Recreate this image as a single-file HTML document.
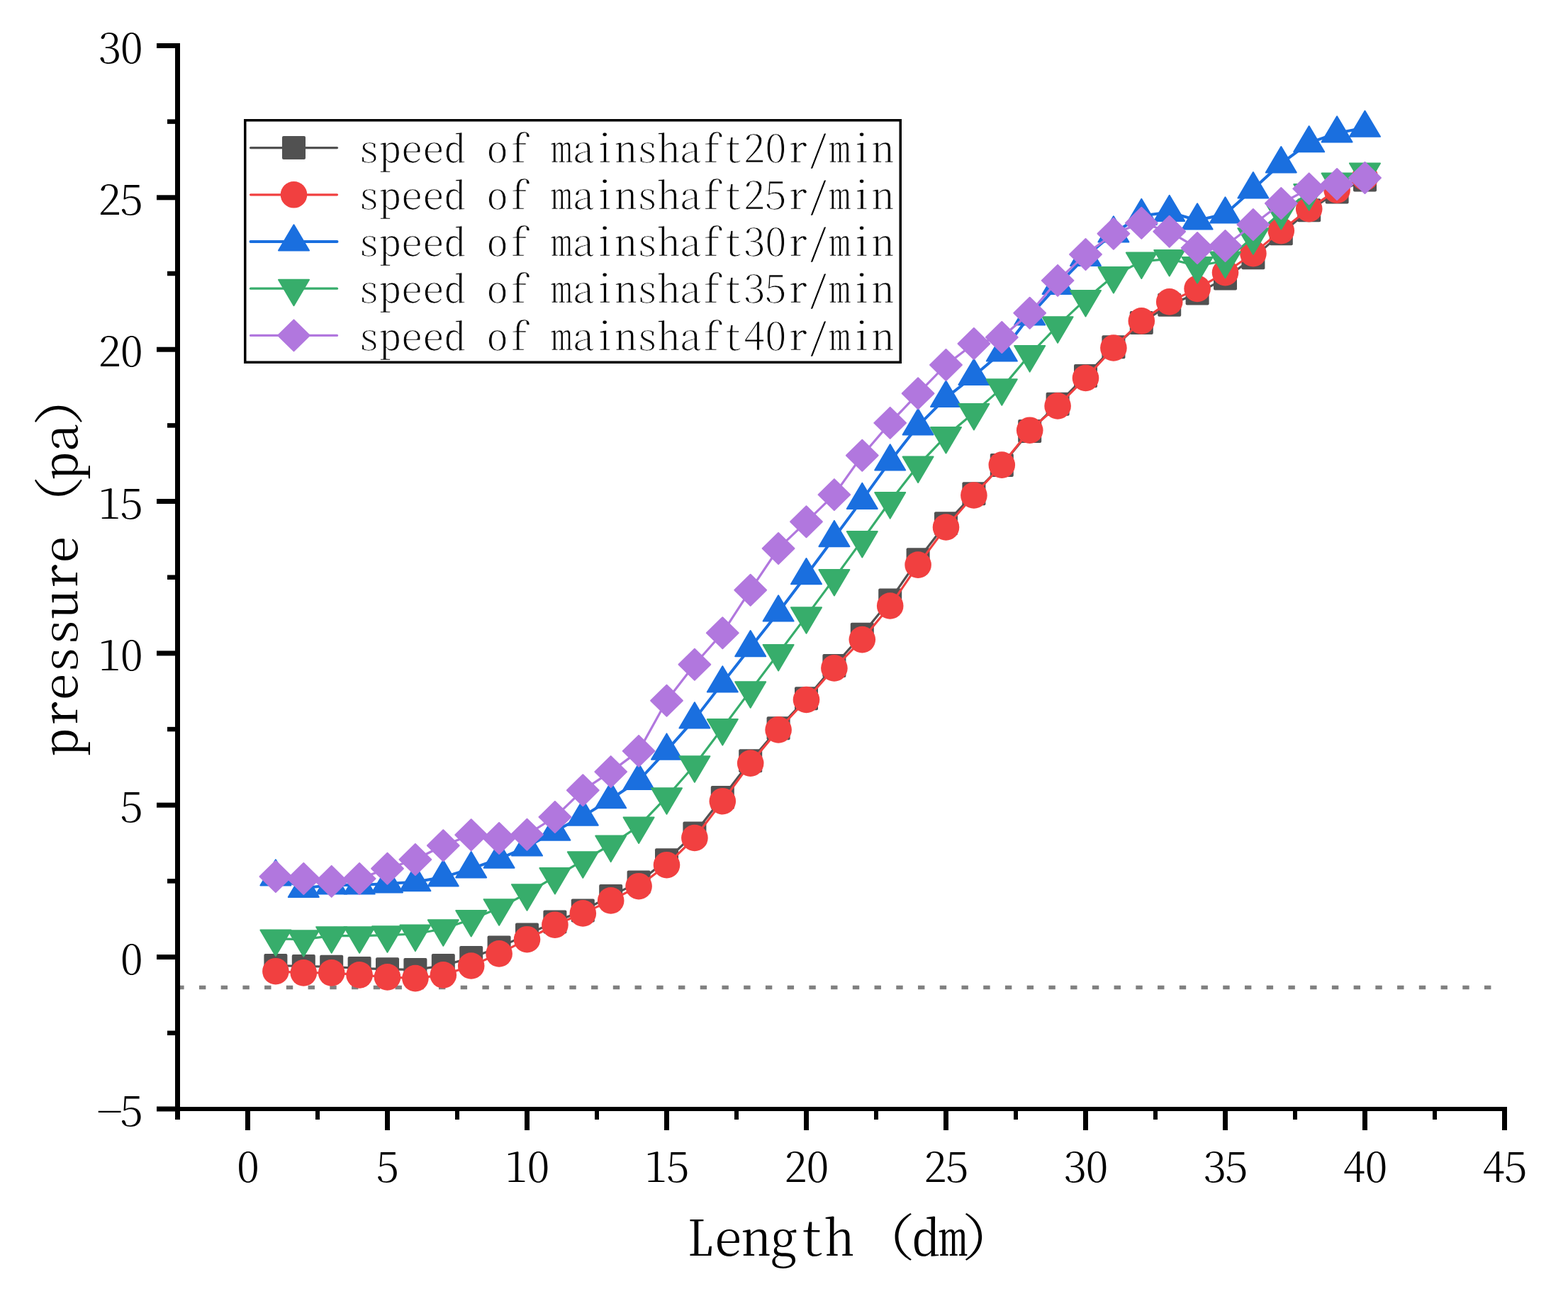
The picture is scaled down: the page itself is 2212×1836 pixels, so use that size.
<!DOCTYPE html>
<html><head><meta charset="utf-8"><title>pressure vs length</title>
<style>
html,body{margin:0;padding:0;background:#fff;}
svg{display:block;}
.t{font-family:"Noto Serif CJK SC","Liberation Serif","Noto Serif CJK JP",serif;font-feature-settings:"hwid" 1;font-weight:300;fill:#000;}
.fw{font-feature-settings:normal;}
.lg{stroke:#fff;stroke-width:0.8px;}
</style></head><body>
<svg width="2212" height="1836" viewBox="0 0 2212 1836">
<rect width="2212" height="1836" fill="#fff"/>
<line x1="250.2" y1="1393.5" x2="2122.5" y2="1393.5" stroke="#808080" stroke-width="5.7" stroke-dasharray="9.4 21.33"/>
<polyline points="388.9,1362.6 428.3,1363.5 467.7,1364.3 507.1,1366.5 546.5,1367.7 585.9,1368.6 625.3,1362.6 664.7,1351.5 704.1,1336.9 743.5,1318.9 782.9,1300.9 822.3,1285 861.7,1264.4 901.1,1245.1 940.5,1213.8 979.9,1176.1 1019.3,1125.5 1058.7,1073.7 1098.1,1027.8 1137.5,985.8 1176.9,939.5 1216.3,895.3 1255.7,846.9 1295.1,789.8 1334.5,738.8 1373.9,696.8 1413.3,656.5 1452.7,608.5 1492.1,570.3 1531.5,530.5 1570.9,489.8 1610.3,455.5 1649.7,430.2 1689.1,413.9 1728.5,392.9 1767.9,363.7 1807.3,329.8 1846.7,296.8 1886.1,271.1 1925.5,254" fill="none" stroke="#515151" stroke-width="3.2" stroke-linejoin="round" stroke-linecap="round"/>
<g fill="#515151"><rect x="372.4" y="1346.1" width="33" height="33" rx="2"/><rect x="411.8" y="1347" width="33" height="33" rx="2"/><rect x="451.2" y="1347.8" width="33" height="33" rx="2"/><rect x="490.6" y="1350" width="33" height="33" rx="2"/><rect x="530" y="1351.2" width="33" height="33" rx="2"/><rect x="569.4" y="1352.1" width="33" height="33" rx="2"/><rect x="608.8" y="1346.1" width="33" height="33" rx="2"/><rect x="648.2" y="1335" width="33" height="33" rx="2"/><rect x="687.6" y="1320.4" width="33" height="33" rx="2"/><rect x="727" y="1302.4" width="33" height="33" rx="2"/><rect x="766.4" y="1284.4" width="33" height="33" rx="2"/><rect x="805.8" y="1268.5" width="33" height="33" rx="2"/><rect x="845.2" y="1247.9" width="33" height="33" rx="2"/><rect x="884.6" y="1228.6" width="33" height="33" rx="2"/><rect x="924" y="1197.3" width="33" height="33" rx="2"/><rect x="963.4" y="1159.6" width="33" height="33" rx="2"/><rect x="1002.8" y="1109" width="33" height="33" rx="2"/><rect x="1042.2" y="1057.2" width="33" height="33" rx="2"/><rect x="1081.6" y="1011.3" width="33" height="33" rx="2"/><rect x="1121" y="969.3" width="33" height="33" rx="2"/><rect x="1160.4" y="923" width="33" height="33" rx="2"/><rect x="1199.8" y="878.8" width="33" height="33" rx="2"/><rect x="1239.2" y="830.4" width="33" height="33" rx="2"/><rect x="1278.6" y="773.3" width="33" height="33" rx="2"/><rect x="1318" y="722.3" width="33" height="33" rx="2"/><rect x="1357.4" y="680.3" width="33" height="33" rx="2"/><rect x="1396.8" y="640" width="33" height="33" rx="2"/><rect x="1436.2" y="592" width="33" height="33" rx="2"/><rect x="1475.6" y="553.8" width="33" height="33" rx="2"/><rect x="1515" y="514" width="33" height="33" rx="2"/><rect x="1554.4" y="473.3" width="33" height="33" rx="2"/><rect x="1593.8" y="439" width="33" height="33" rx="2"/><rect x="1633.2" y="413.7" width="33" height="33" rx="2"/><rect x="1672.6" y="397.4" width="33" height="33" rx="2"/><rect x="1712" y="376.4" width="33" height="33" rx="2"/><rect x="1751.4" y="347.2" width="33" height="33" rx="2"/><rect x="1790.8" y="313.3" width="33" height="33" rx="2"/><rect x="1830.2" y="280.3" width="33" height="33" rx="2"/><rect x="1869.6" y="254.6" width="33" height="33" rx="2"/><rect x="1909" y="237.5" width="33" height="33" rx="2"/></g>
<polyline points="388.9,1370.7 428.3,1372.9 467.7,1372.9 507.1,1375.9 546.5,1378.9 585.9,1380.6 625.3,1375.9 664.7,1363 704.1,1345.9 743.5,1325.7 782.9,1305.2 822.3,1288.9 861.7,1270.9 901.1,1250.7 940.5,1220.7 979.9,1182.5 1019.3,1130.7 1058.7,1077.1 1098.1,1029.9 1137.5,987.5 1176.9,942.9 1216.3,902.6 1255.7,855 1295.1,797.1 1334.5,744 1373.9,699 1413.3,656.1 1452.7,607.2 1492.1,572.9 1531.5,533.5 1570.9,491 1610.3,452.9 1649.7,425.9 1689.1,407.4 1728.5,384.7 1767.9,357.7 1807.3,325.6 1846.7,294.7 1886.1,268.1 1925.5,250.5" fill="none" stroke="#F14040" stroke-width="3.2" stroke-linejoin="round" stroke-linecap="round"/>
<g fill="#F14040"><circle cx="388.9" cy="1370.7" r="18.8"/><circle cx="428.3" cy="1372.9" r="18.8"/><circle cx="467.7" cy="1372.9" r="18.8"/><circle cx="507.1" cy="1375.9" r="18.8"/><circle cx="546.5" cy="1378.9" r="18.8"/><circle cx="585.9" cy="1380.6" r="18.8"/><circle cx="625.3" cy="1375.9" r="18.8"/><circle cx="664.7" cy="1363" r="18.8"/><circle cx="704.1" cy="1345.9" r="18.8"/><circle cx="743.5" cy="1325.7" r="18.8"/><circle cx="782.9" cy="1305.2" r="18.8"/><circle cx="822.3" cy="1288.9" r="18.8"/><circle cx="861.7" cy="1270.9" r="18.8"/><circle cx="901.1" cy="1250.7" r="18.8"/><circle cx="940.5" cy="1220.7" r="18.8"/><circle cx="979.9" cy="1182.5" r="18.8"/><circle cx="1019.3" cy="1130.7" r="18.8"/><circle cx="1058.7" cy="1077.1" r="18.8"/><circle cx="1098.1" cy="1029.9" r="18.8"/><circle cx="1137.5" cy="987.5" r="18.8"/><circle cx="1176.9" cy="942.9" r="18.8"/><circle cx="1216.3" cy="902.6" r="18.8"/><circle cx="1255.7" cy="855" r="18.8"/><circle cx="1295.1" cy="797.1" r="18.8"/><circle cx="1334.5" cy="744" r="18.8"/><circle cx="1373.9" cy="699" r="18.8"/><circle cx="1413.3" cy="656.1" r="18.8"/><circle cx="1452.7" cy="607.2" r="18.8"/><circle cx="1492.1" cy="572.9" r="18.8"/><circle cx="1531.5" cy="533.5" r="18.8"/><circle cx="1570.9" cy="491" r="18.8"/><circle cx="1610.3" cy="452.9" r="18.8"/><circle cx="1649.7" cy="425.9" r="18.8"/><circle cx="1689.1" cy="407.4" r="18.8"/><circle cx="1728.5" cy="384.7" r="18.8"/><circle cx="1767.9" cy="357.7" r="18.8"/><circle cx="1807.3" cy="325.6" r="18.8"/><circle cx="1846.7" cy="294.7" r="18.8"/><circle cx="1886.1" cy="268.1" r="18.8"/><circle cx="1925.5" cy="250.5" r="18.8"/></g>
<polyline points="388.9,1237 428.3,1253.3 467.7,1249 507.1,1249 546.5,1246.9 585.9,1244.7 625.3,1237.8 664.7,1225.8 704.1,1212.1 743.5,1195 782.9,1173.1 822.3,1152.1 861.7,1127.7 901.1,1101.5 940.5,1059.1 979.9,1014.9 1019.3,963.9 1058.7,913.7 1098.1,864 1137.5,811.7 1176.9,758.6 1216.3,705.4 1255.7,650.9 1295.1,600.8 1334.5,561.3 1373.9,530.5 1413.3,497 1452.7,446 1492.1,402.3 1531.5,362.4 1570.9,329 1610.3,304.5 1649.7,299.4 1689.1,311 1728.5,302 1767.9,266.8 1807.3,230.8 1846.7,201.7 1886.1,187.9 1925.5,180.2" fill="none" stroke="#1A6FDF" stroke-width="4.0" stroke-linejoin="round" stroke-linecap="round"/>
<g fill="#1A6FDF" stroke="#1A6FDF" stroke-width="2" stroke-linejoin="round"><polygon points="388.9,1213.3 410.4,1249.6 367.4,1249.6"/><polygon points="428.3,1229.6 449.8,1265.9 406.8,1265.9"/><polygon points="467.7,1225.3 489.2,1261.6 446.2,1261.6"/><polygon points="507.1,1225.3 528.6,1261.6 485.6,1261.6"/><polygon points="546.5,1223.2 568,1259.5 525,1259.5"/><polygon points="585.9,1221 607.4,1257.3 564.4,1257.3"/><polygon points="625.3,1214.1 646.8,1250.4 603.8,1250.4"/><polygon points="664.7,1202.1 686.2,1238.4 643.2,1238.4"/><polygon points="704.1,1188.4 725.6,1224.7 682.6,1224.7"/><polygon points="743.5,1171.3 765,1207.6 722,1207.6"/><polygon points="782.9,1149.4 804.4,1185.7 761.4,1185.7"/><polygon points="822.3,1128.4 843.8,1164.7 800.8,1164.7"/><polygon points="861.7,1104 883.2,1140.3 840.2,1140.3"/><polygon points="901.1,1077.8 922.6,1114.1 879.6,1114.1"/><polygon points="940.5,1035.4 962,1071.7 919,1071.7"/><polygon points="979.9,991.2 1001.4,1027.5 958.4,1027.5"/><polygon points="1019.3,940.2 1040.8,976.5 997.8,976.5"/><polygon points="1058.7,890 1080.2,926.3 1037.2,926.3"/><polygon points="1098.1,840.3 1119.6,876.6 1076.6,876.6"/><polygon points="1137.5,788 1159,824.3 1116,824.3"/><polygon points="1176.9,734.9 1198.4,771.2 1155.4,771.2"/><polygon points="1216.3,681.7 1237.8,718 1194.8,718"/><polygon points="1255.7,627.2 1277.2,663.5 1234.2,663.5"/><polygon points="1295.1,577.1 1316.6,613.4 1273.6,613.4"/><polygon points="1334.5,537.6 1356,573.9 1313,573.9"/><polygon points="1373.9,506.8 1395.4,543.1 1352.4,543.1"/><polygon points="1413.3,473.3 1434.8,509.6 1391.8,509.6"/><polygon points="1452.7,422.3 1474.2,458.6 1431.2,458.6"/><polygon points="1492.1,378.6 1513.6,414.9 1470.6,414.9"/><polygon points="1531.5,338.7 1553,375 1510,375"/><polygon points="1570.9,305.3 1592.4,341.6 1549.4,341.6"/><polygon points="1610.3,280.8 1631.8,317.1 1588.8,317.1"/><polygon points="1649.7,275.7 1671.2,312 1628.2,312"/><polygon points="1689.1,287.3 1710.6,323.6 1667.6,323.6"/><polygon points="1728.5,278.3 1750,314.6 1707,314.6"/><polygon points="1767.9,243.1 1789.4,279.4 1746.4,279.4"/><polygon points="1807.3,207.1 1828.8,243.4 1785.8,243.4"/><polygon points="1846.7,178 1868.2,214.3 1825.2,214.3"/><polygon points="1886.1,164.2 1907.6,200.5 1864.6,200.5"/><polygon points="1925.5,156.5 1947,192.8 1904,192.8"/></g>
<polyline points="388.9,1324.9 428.3,1325.7 467.7,1320.6 507.1,1320.6 546.5,1319.7 585.9,1318 625.3,1310.7 664.7,1297.4 704.1,1281.6 743.5,1260.6 782.9,1237.4 822.3,1214.7 861.7,1192 901.1,1165.8 940.5,1124.7 979.9,1079.7 1019.3,1027.4 1058.7,974.6 1098.1,922.3 1137.5,869.6 1176.9,816.4 1216.3,762.4 1255.7,707.5 1295.1,656.9 1334.5,615.4 1373.9,582.4 1413.3,547.6 1452.7,500.5 1492.1,459.7 1531.5,422.4 1570.9,389.4 1610.3,368.9 1649.7,365.4 1689.1,375.3 1728.5,368 1767.9,334.6 1807.3,299.4 1846.7,272.4 1886.1,257 1925.5,242.8" fill="none" stroke="#37AD6B" stroke-width="3.2" stroke-linejoin="round" stroke-linecap="round"/>
<g fill="#37AD6B" stroke="#37AD6B" stroke-width="2" stroke-linejoin="round"><polygon points="367.4,1312.5 410.4,1312.5 388.9,1349"/><polygon points="406.8,1313.3 449.8,1313.3 428.3,1349.8"/><polygon points="446.2,1308.2 489.2,1308.2 467.7,1344.7"/><polygon points="485.6,1308.2 528.6,1308.2 507.1,1344.7"/><polygon points="525,1307.3 568,1307.3 546.5,1343.8"/><polygon points="564.4,1305.6 607.4,1305.6 585.9,1342.1"/><polygon points="603.8,1298.3 646.8,1298.3 625.3,1334.8"/><polygon points="643.2,1285 686.2,1285 664.7,1321.5"/><polygon points="682.6,1269.2 725.6,1269.2 704.1,1305.7"/><polygon points="722,1248.2 765,1248.2 743.5,1284.7"/><polygon points="761.4,1225 804.4,1225 782.9,1261.5"/><polygon points="800.8,1202.3 843.8,1202.3 822.3,1238.8"/><polygon points="840.2,1179.6 883.2,1179.6 861.7,1216.1"/><polygon points="879.6,1153.4 922.6,1153.4 901.1,1189.9"/><polygon points="919,1112.3 962,1112.3 940.5,1148.8"/><polygon points="958.4,1067.3 1001.4,1067.3 979.9,1103.8"/><polygon points="997.8,1015 1040.8,1015 1019.3,1051.5"/><polygon points="1037.2,962.2 1080.2,962.2 1058.7,998.7"/><polygon points="1076.6,909.9 1119.6,909.9 1098.1,946.4"/><polygon points="1116,857.2 1159,857.2 1137.5,893.7"/><polygon points="1155.4,804 1198.4,804 1176.9,840.5"/><polygon points="1194.8,750 1237.8,750 1216.3,786.5"/><polygon points="1234.2,695.1 1277.2,695.1 1255.7,731.6"/><polygon points="1273.6,644.5 1316.6,644.5 1295.1,681"/><polygon points="1313,603 1356,603 1334.5,639.5"/><polygon points="1352.4,570 1395.4,570 1373.9,606.5"/><polygon points="1391.8,535.2 1434.8,535.2 1413.3,571.7"/><polygon points="1431.2,488.1 1474.2,488.1 1452.7,524.6"/><polygon points="1470.6,447.3 1513.6,447.3 1492.1,483.8"/><polygon points="1510,410 1553,410 1531.5,446.5"/><polygon points="1549.4,377 1592.4,377 1570.9,413.5"/><polygon points="1588.8,356.5 1631.8,356.5 1610.3,393"/><polygon points="1628.2,353 1671.2,353 1649.7,389.5"/><polygon points="1667.6,362.9 1710.6,362.9 1689.1,399.4"/><polygon points="1707,355.6 1750,355.6 1728.5,392.1"/><polygon points="1746.4,322.2 1789.4,322.2 1767.9,358.7"/><polygon points="1785.8,287 1828.8,287 1807.3,323.5"/><polygon points="1825.2,260 1868.2,260 1846.7,296.5"/><polygon points="1864.6,244.6 1907.6,244.6 1886.1,281.1"/><polygon points="1904,230.4 1947,230.4 1925.5,266.9"/></g>
<polyline points="388.9,1237 428.3,1240 467.7,1243.9 507.1,1240 546.5,1225.8 585.9,1213 625.3,1193.3 664.7,1178.3 704.1,1183 743.5,1177.8 782.9,1153 822.3,1115.2 861.7,1089.1 901.1,1059.9 940.5,988.8 979.9,937.8 1019.3,893.2 1058.7,832.7 1098.1,774 1137.5,736.3 1176.9,698.1 1216.3,642.8 1255.7,596.9 1295.1,555.3 1334.5,515 1373.9,485 1413.3,476 1452.7,441.7 1492.1,395.9 1531.5,359 1570.9,329.8 1610.3,314.8 1649.7,326.8 1689.1,350 1728.5,347 1767.9,317 1807.3,287 1846.7,266.4 1886.1,260 1925.5,251" fill="none" stroke="#B177DE" stroke-width="3.2" stroke-linejoin="round" stroke-linecap="round"/>
<g fill="#B177DE" stroke="#B177DE" stroke-width="2" stroke-linejoin="round"><polygon points="388.9,1215 411.3,1237 388.9,1259 366.5,1237"/><polygon points="428.3,1218 450.7,1240 428.3,1262 405.9,1240"/><polygon points="467.7,1221.9 490.1,1243.9 467.7,1265.9 445.3,1243.9"/><polygon points="507.1,1218 529.5,1240 507.1,1262 484.7,1240"/><polygon points="546.5,1203.8 568.9,1225.8 546.5,1247.8 524.1,1225.8"/><polygon points="585.9,1191 608.3,1213 585.9,1235 563.5,1213"/><polygon points="625.3,1171.3 647.7,1193.3 625.3,1215.3 602.9,1193.3"/><polygon points="664.7,1156.3 687.1,1178.3 664.7,1200.3 642.3,1178.3"/><polygon points="704.1,1161 726.5,1183 704.1,1205 681.7,1183"/><polygon points="743.5,1155.8 765.9,1177.8 743.5,1199.8 721.1,1177.8"/><polygon points="782.9,1131 805.3,1153 782.9,1175 760.5,1153"/><polygon points="822.3,1093.2 844.7,1115.2 822.3,1137.2 799.9,1115.2"/><polygon points="861.7,1067.1 884.1,1089.1 861.7,1111.1 839.3,1089.1"/><polygon points="901.1,1037.9 923.5,1059.9 901.1,1081.9 878.7,1059.9"/><polygon points="940.5,966.8 962.9,988.8 940.5,1010.8 918.1,988.8"/><polygon points="979.9,915.8 1002.3,937.8 979.9,959.8 957.5,937.8"/><polygon points="1019.3,871.2 1041.7,893.2 1019.3,915.2 996.9,893.2"/><polygon points="1058.7,810.7 1081.1,832.7 1058.7,854.7 1036.3,832.7"/><polygon points="1098.1,752 1120.5,774 1098.1,796 1075.7,774"/><polygon points="1137.5,714.3 1159.9,736.3 1137.5,758.3 1115.1,736.3"/><polygon points="1176.9,676.1 1199.3,698.1 1176.9,720.1 1154.5,698.1"/><polygon points="1216.3,620.8 1238.7,642.8 1216.3,664.8 1193.9,642.8"/><polygon points="1255.7,574.9 1278.1,596.9 1255.7,618.9 1233.3,596.9"/><polygon points="1295.1,533.3 1317.5,555.3 1295.1,577.3 1272.7,555.3"/><polygon points="1334.5,493 1356.9,515 1334.5,537 1312.1,515"/><polygon points="1373.9,463 1396.3,485 1373.9,507 1351.5,485"/><polygon points="1413.3,454 1435.7,476 1413.3,498 1390.9,476"/><polygon points="1452.7,419.7 1475.1,441.7 1452.7,463.7 1430.3,441.7"/><polygon points="1492.1,373.9 1514.5,395.9 1492.1,417.9 1469.7,395.9"/><polygon points="1531.5,337 1553.9,359 1531.5,381 1509.1,359"/><polygon points="1570.9,307.8 1593.3,329.8 1570.9,351.8 1548.5,329.8"/><polygon points="1610.3,292.8 1632.7,314.8 1610.3,336.8 1587.9,314.8"/><polygon points="1649.7,304.8 1672.1,326.8 1649.7,348.8 1627.3,326.8"/><polygon points="1689.1,328 1711.5,350 1689.1,372 1666.7,350"/><polygon points="1728.5,325 1750.9,347 1728.5,369 1706.1,347"/><polygon points="1767.9,295 1790.3,317 1767.9,339 1745.5,317"/><polygon points="1807.3,265 1829.7,287 1807.3,309 1784.9,287"/><polygon points="1846.7,244.4 1869.1,266.4 1846.7,288.4 1824.3,266.4"/><polygon points="1886.1,238 1908.5,260 1886.1,282 1863.7,260"/><polygon points="1925.5,229 1947.9,251 1925.5,273 1903.1,251"/></g>
<g stroke="#000" fill="none">
<line x1="250.5" y1="61" x2="250.5" y2="1580" stroke-width="7"/>
<line x1="247" y1="1565" x2="2126" y2="1565" stroke-width="6"/>
<line x1="221" y1="1565" x2="250" y2="1565" stroke-width="7"/>
<line x1="221" y1="1350.6" x2="250" y2="1350.6" stroke-width="7"/>
<line x1="221" y1="1136.2" x2="250" y2="1136.2" stroke-width="7"/>
<line x1="221" y1="921.9" x2="250" y2="921.9" stroke-width="7"/>
<line x1="221" y1="707.5" x2="250" y2="707.5" stroke-width="7"/>
<line x1="221" y1="493.2" x2="250" y2="493.2" stroke-width="7"/>
<line x1="221" y1="278.8" x2="250" y2="278.8" stroke-width="7"/>
<line x1="221" y1="64.5" x2="250" y2="64.5" stroke-width="7"/>
<line x1="236" y1="1457.8" x2="250" y2="1457.8" stroke-width="6.5"/>
<line x1="236" y1="1243.4" x2="250" y2="1243.4" stroke-width="6.5"/>
<line x1="236" y1="1029.1" x2="250" y2="1029.1" stroke-width="6.5"/>
<line x1="236" y1="814.7" x2="250" y2="814.7" stroke-width="6.5"/>
<line x1="236" y1="600.4" x2="250" y2="600.4" stroke-width="6.5"/>
<line x1="236" y1="386" x2="250" y2="386" stroke-width="6.5"/>
<line x1="236" y1="171.6" x2="250" y2="171.6" stroke-width="6.5"/>
<line x1="349.5" y1="1565" x2="349.5" y2="1595" stroke-width="7"/>
<line x1="546.5" y1="1565" x2="546.5" y2="1595" stroke-width="7"/>
<line x1="743.5" y1="1565" x2="743.5" y2="1595" stroke-width="7"/>
<line x1="940.5" y1="1565" x2="940.5" y2="1595" stroke-width="7"/>
<line x1="1137.5" y1="1565" x2="1137.5" y2="1595" stroke-width="7"/>
<line x1="1334.5" y1="1565" x2="1334.5" y2="1595" stroke-width="7"/>
<line x1="1531.5" y1="1565" x2="1531.5" y2="1595" stroke-width="7"/>
<line x1="1728.5" y1="1565" x2="1728.5" y2="1595" stroke-width="7"/>
<line x1="1925.5" y1="1565" x2="1925.5" y2="1595" stroke-width="7"/>
<line x1="2122.5" y1="1565" x2="2122.5" y2="1595" stroke-width="7"/>
<line x1="448" y1="1565" x2="448" y2="1580" stroke-width="6"/>
<line x1="645" y1="1565" x2="645" y2="1580" stroke-width="6"/>
<line x1="842" y1="1565" x2="842" y2="1580" stroke-width="6"/>
<line x1="1039" y1="1565" x2="1039" y2="1580" stroke-width="6"/>
<line x1="1236" y1="1565" x2="1236" y2="1580" stroke-width="6"/>
<line x1="1433" y1="1565" x2="1433" y2="1580" stroke-width="6"/>
<line x1="1630" y1="1565" x2="1630" y2="1580" stroke-width="6"/>
<line x1="1827" y1="1565" x2="1827" y2="1580" stroke-width="6"/>
<line x1="2024" y1="1565" x2="2024" y2="1580" stroke-width="6"/>
</g>
<text class="t" font-size="64.0" transform="translate(0,1589.1) scale(1,0.88)" x="136.3 169.8" y="0">−5</text>
<text class="t" font-size="64.0" transform="translate(0,1374.7) scale(1,0.88)" x="169.8" y="0">0</text>
<text class="t" font-size="64.0" transform="translate(0,1160.4) scale(1,0.88)" x="169.8" y="0">5</text>
<text class="t" font-size="64.0" transform="translate(0,946) scale(1,0.88)" x="138.7 169.8" y="0">10</text>
<text class="t" font-size="64.0" transform="translate(0,731.7) scale(1,0.88)" x="138.7 169.8" y="0">15</text>
<text class="t" font-size="64.0" transform="translate(0,517.3) scale(1,0.88)" x="138.7 169.8" y="0">20</text>
<text class="t" font-size="64.0" transform="translate(0,302.9) scale(1,0.88)" x="138.7 169.8" y="0">25</text>
<text class="t" font-size="64.0" transform="translate(0,88.6) scale(1,0.88)" x="138.7 169.8" y="0">30</text>
<text class="t" font-size="64.0" transform="translate(0,1667.5) scale(1,0.88)" x="333.9" y="0">0</text>
<text class="t" font-size="64.0" transform="translate(0,1667.5) scale(1,0.88)" x="530.9" y="0">5</text>
<text class="t" font-size="64.0" transform="translate(0,1667.5) scale(1,0.88)" x="712.4 743.5" y="0">10</text>
<text class="t" font-size="64.0" transform="translate(0,1667.5) scale(1,0.88)" x="909.4 940.5" y="0">15</text>
<text class="t" font-size="64.0" transform="translate(0,1667.5) scale(1,0.88)" x="1106.4 1137.5" y="0">20</text>
<text class="t" font-size="64.0" transform="translate(0,1667.5) scale(1,0.88)" x="1303.4 1334.5" y="0">25</text>
<text class="t" font-size="64.0" transform="translate(0,1667.5) scale(1,0.88)" x="1500.4 1531.5" y="0">30</text>
<text class="t" font-size="64.0" transform="translate(0,1667.5) scale(1,0.88)" x="1697.4 1728.5" y="0">35</text>
<text class="t" font-size="64.0" transform="translate(0,1667.5) scale(1,0.88)" x="1894.4 1925.5" y="0">40</text>
<text class="t" font-size="64.0" transform="translate(0,1667.5) scale(1,0.88)" x="2091.3 2122.4" y="0">45</text>
<text class="t" font-size="78.5" transform="translate(0,1771.6) scale(1,0.87)" x="968.4 1007.6 1046.9 1086.1 1125.4 1164.6" y="0">Length<tspan class="fw" font-size="82.0" x="1209">（</tspan><tspan font-size="78.5" x="1285.8 1325">dm</tspan><tspan class="fw" font-size="82.0" x="1356.7">）</tspan></text>
<text class="t" font-size="77.5" transform="translate(109.3,1068) rotate(-90) scale(1,0.87)" x="1.5 40.3 79 117.8 156.5 195.3 234 272.8" y="0">pressure<tspan class="fw" font-size="82.0" x="314.8">（</tspan><tspan font-size="77.5" x="391.4 430.2">pa</tspan><tspan class="fw" font-size="82.0" x="466.7">）</tspan></text>
<rect x="345.75" y="169.75" width="924.5" height="341.5" fill="#fff" stroke="#000" stroke-width="3.5"/>
<line x1="353.5" y1="208.6" x2="475.5" y2="208.6" stroke="#515151" stroke-width="3.2" stroke-linecap="round"/>
<g fill="#515151"><rect x="398" y="192.1" width="33" height="33" rx="2"/></g>
<text class="t lg" font-size="60.4" transform="translate(0,228.8) scale(1,0.855)" x="505.4 535.6 565.8 596 626.2 656.4 686.6 716.8 747 777.2 807.4 837.6 867.8 898 928.2 958.4 988.6 1018.8 1049 1079.2 1109.4 1139.6 1169.8 1200 1230.2" y="0">speed of mainshaft20r/min</text>
<line x1="353.5" y1="274.8" x2="475.5" y2="274.8" stroke="#F14040" stroke-width="3.2" stroke-linecap="round"/>
<g fill="#F14040"><circle cx="414.5" cy="274.8" r="18.8"/></g>
<text class="t lg" font-size="60.4" transform="translate(0,295) scale(1,0.855)" x="505.4 535.6 565.8 596 626.2 656.4 686.6 716.8 747 777.2 807.4 837.6 867.8 898 928.2 958.4 988.6 1018.8 1049 1079.2 1109.4 1139.6 1169.8 1200 1230.2" y="0">speed of mainshaft25r/min</text>
<line x1="353.5" y1="341" x2="475.5" y2="341" stroke="#1A6FDF" stroke-width="4.0" stroke-linecap="round"/>
<g fill="#1A6FDF" stroke="#1A6FDF" stroke-width="2" stroke-linejoin="round"><polygon points="414.5,317.3 436,353.6 393,353.6"/></g>
<text class="t lg" font-size="60.4" transform="translate(0,361.2) scale(1,0.855)" x="505.4 535.6 565.8 596 626.2 656.4 686.6 716.8 747 777.2 807.4 837.6 867.8 898 928.2 958.4 988.6 1018.8 1049 1079.2 1109.4 1139.6 1169.8 1200 1230.2" y="0">speed of mainshaft30r/min</text>
<line x1="353.5" y1="407.2" x2="475.5" y2="407.2" stroke="#37AD6B" stroke-width="3.2" stroke-linecap="round"/>
<g fill="#37AD6B" stroke="#37AD6B" stroke-width="2" stroke-linejoin="round"><polygon points="393,394.8 436,394.8 414.5,431.3"/></g>
<text class="t lg" font-size="60.4" transform="translate(0,427.4) scale(1,0.855)" x="505.4 535.6 565.8 596 626.2 656.4 686.6 716.8 747 777.2 807.4 837.6 867.8 898 928.2 958.4 988.6 1018.8 1049 1079.2 1109.4 1139.6 1169.8 1200 1230.2" y="0">speed of mainshaft35r/min</text>
<line x1="353.5" y1="473.4" x2="475.5" y2="473.4" stroke="#B177DE" stroke-width="3.2" stroke-linecap="round"/>
<g fill="#B177DE" stroke="#B177DE" stroke-width="2" stroke-linejoin="round"><polygon points="414.5,451.4 436.9,473.4 414.5,495.4 392.1,473.4"/></g>
<text class="t lg" font-size="60.4" transform="translate(0,493.6) scale(1,0.855)" x="505.4 535.6 565.8 596 626.2 656.4 686.6 716.8 747 777.2 807.4 837.6 867.8 898 928.2 958.4 988.6 1018.8 1049 1079.2 1109.4 1139.6 1169.8 1200 1230.2" y="0">speed of mainshaft40r/min</text>
</svg></body></html>
